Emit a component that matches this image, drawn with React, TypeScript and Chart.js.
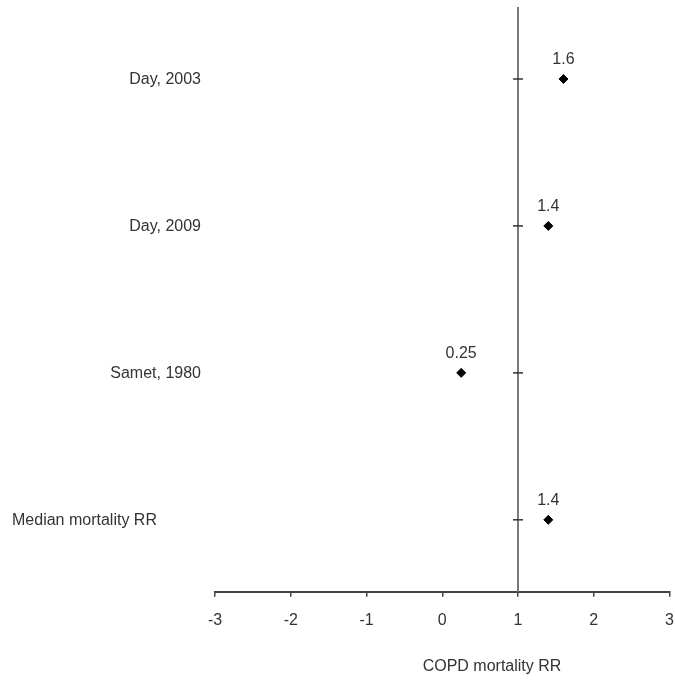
import React, { useEffect, useRef } from "react";
import { Chart, registerables } from "chart.js";

Chart.register(...registerables);

const studies = ["Day, 2003", "Day, 2009", "Samet, 1980", "Median mortality RR"];
const rrValues = [1.6, 1.4, 0.25, 1.4];
const rrLabels = ["1.6", "1.4", "0.25", "1.4"];
const xTicks = [-3, -2, -1, 0, 1, 2, 3];
const xTitle = "COPD mortality RR";
const referenceValue = 1;

const FONT = "'Liberation Sans', Arial, Helvetica, sans-serif";
const TEXT = "#333333";

const forestPlugin = {
  id: "forestPlugin",
  afterDraw(chart: any) {
    const { ctx, chartArea, scales } = chart;
    const xs = scales.x;
    const ys = scales.y;
    const x0 = Math.round(xs.getPixelForValue(referenceValue));
    ctx.save();
    // vertical reference line
    ctx.strokeStyle = "#7a7a7a";
    ctx.lineWidth = 2;
    ctx.beginPath();
    ctx.moveTo(x0, chartArea.top);
    ctx.lineTo(x0, chartArea.bottom);
    ctx.stroke();
    // ticks on vertical line
    ctx.strokeStyle = "#333333";
    ctx.lineWidth = 1.5;
    studies.forEach((_, i) => {
      const y = ys.getPixelForValue(i);
      ctx.beginPath();
      ctx.moveTo(x0 - 5, y);
      ctx.lineTo(x0 + 5, y);
      ctx.stroke();
    });
    // category labels
    ctx.font = `16px ${FONT}`;
    ctx.fillStyle = TEXT;
    ctx.textBaseline = "middle";
    studies.forEach((name, i) => {
      const y = ys.getPixelForValue(i) + 1;
      if (i === studies.length - 1) {
        ctx.textAlign = "left";
        ctx.fillText(name, 12, y);
      } else {
        ctx.textAlign = "right";
        ctx.fillText(name, 201, y);
      }
    });
    // data labels
    const meta = chart.getDatasetMeta(0);
    ctx.textAlign = "center";
    meta.data.forEach((pt: any, i: number) => {
      ctx.fillText(rrLabels[i], pt.x, pt.y - 19);
    });
    // x title
    ctx.fillText(xTitle, 492, 667);
    ctx.restore();
  },
};

export default function App() {
  const ref = useRef<HTMLCanvasElement>(null);
  useEffect(() => {
    if (!ref.current) return;
    const chart = new Chart(ref.current, {
      type: "scatter",
      data: {
        datasets: [
          {
            data: rrValues.map((v, i) => ({ x: v, y: i })),
            pointStyle: "rectRot",
            pointRadius: 4.5,
            backgroundColor: "#000000",
            borderColor: "#000000",
            borderWidth: 1,
          },
        ],
      },
      options: {
        animation: false,
        responsive: false,
        maintainAspectRatio: false,
        layout: { padding: { left: 215, right: 5, top: 7, bottom: 37 } },
        plugins: { legend: { display: false }, tooltip: { enabled: false } },
        scales: {
          x: {
            type: "linear",
            min: -3,
            max: 3,
            afterBuildTicks: (axis: any) => {
              axis.ticks = xTicks.map((v) => ({ value: v }));
            },
            afterFit: (axis: any) => {
              axis.paddingLeft = 0;
              axis.paddingRight = 0;
            },
            ticks: {
              color: TEXT,
              font: { family: FONT, size: 16 },
              padding: 14,
              maxRotation: 0,
              autoSkip: false,
            },
            grid: {
              drawOnChartArea: false,
              drawTicks: true,
              tickLength: 5,
              color: "#444444",
              lineWidth: 1.5,
            },
            border: { display: true, color: "#444444", width: 2 },
          },
          y: {
            type: "linear",
            display: false,
            min: -0.49,
            max: 3.49,
            reverse: true,
          },
        },
      },
      plugins: [forestPlugin],
    });
    return () => chart.destroy();
  }, []);
  return (
    <div style={{ position: "absolute", left: 0, top: 0, width: 675, height: 681, background: "#fff" }}>
      <canvas ref={ref} width={675} height={681} style={{ display: "block" }} />
    </div>
  );
}
